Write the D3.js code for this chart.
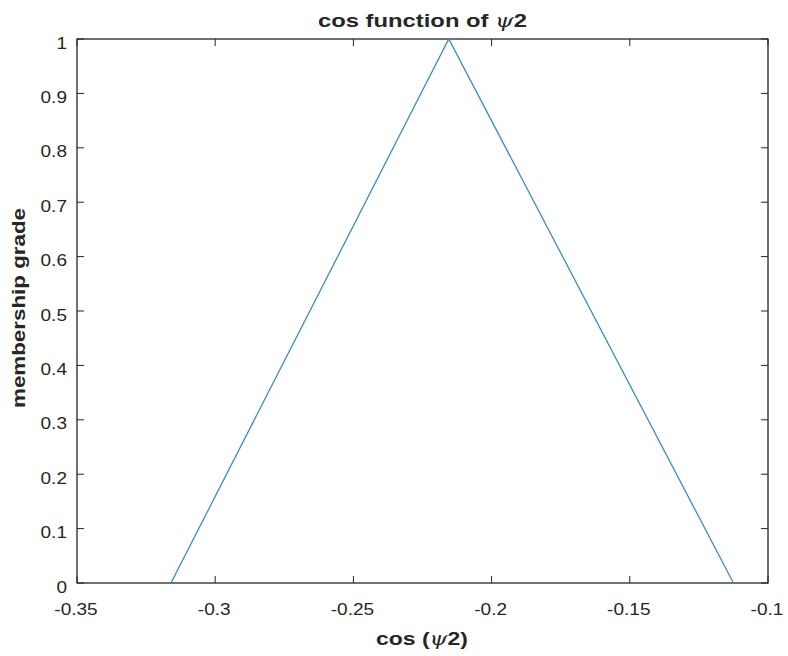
<!DOCTYPE html>
<html>
<head>
<meta charset="utf-8">
<script src="https://cdn.jsdelivr.net/npm/d3@7"></script>
<style>
  body { margin: 0; background: #fff; }
  text { font-family: "Liberation Sans", Arial, sans-serif; fill: #262626; }
</style>
</head>
<body>
<div id="chart"></div>
<script>
// triangular membership function
const xValues = [-0.316, -0.2155, -0.1125];
const yValues = [0, 1, 0];
const xTicks = [-0.35, -0.3, -0.25, -0.2, -0.15, -0.1];
const yTicks = [0, 0.1, 0.2, 0.3, 0.4, 0.5, 0.6, 0.7, 0.8, 0.9, 1];

const width = 788, height = 656;
const margin = {top: 39, right: 20, bottom: 73, left: 77};

const svg = d3.select("#chart").append("svg")
    .attr("width", width)
    .attr("height", height);

const x = d3.scaleLinear([-0.35, -0.1], [margin.left, width - margin.right]);
const y = d3.scaleLinear([0, 1], [height - margin.bottom, margin.top]);

const tickLen = 7;
const axisColor = "#262626";
const fmt = d => String(d);   // plain hyphen like matlab
const sx = 1.12;              // the reference text is a bit wider than Liberation

// box
svg.append("rect")
    .attr("x", margin.left)
    .attr("y", margin.top)
    .attr("width", x(-0.1) - x(-0.35))
    .attr("height", y(0) - y(1))
    .attr("fill", "none")
    .attr("stroke", axisColor)
    .attr("stroke-width", 1.3);

// ticks on all four sides, pointing in
const ticks = svg.append("g").attr("stroke", axisColor).attr("stroke-width", 1);
xTicks.forEach(t => {
    ticks.append("line").attr("x1", x(t)).attr("x2", x(t))
        .attr("y1", y(0)).attr("y2", y(0) - tickLen);
    ticks.append("line").attr("x1", x(t)).attr("x2", x(t))
        .attr("y1", y(1)).attr("y2", y(1) + tickLen);
});
yTicks.forEach(t => {
    ticks.append("line").attr("x1", x(-0.35)).attr("x2", x(-0.35) + tickLen)
        .attr("y1", y(t)).attr("y2", y(t));
    ticks.append("line").attr("x1", x(-0.1)).attr("x2", x(-0.1) - tickLen)
        .attr("y1", y(t)).attr("y2", y(t));
});

// tick labels
svg.append("g").selectAll("text")
    .data(xTicks)
    .join("text")
    .attr("transform", d => `translate(${x(d) - 1},${y(0) + 32}) scale(${sx},1)`)
    .attr("text-anchor", "middle")
    .attr("font-size", 17)
    .text(fmt);

svg.append("g").selectAll("text")
    .data(yTicks)
    .join("text")
    .attr("transform", d => `translate(${margin.left - 10},${y(d) + 9.5}) scale(${sx},1)`)
    .attr("text-anchor", "end")
    .attr("font-size", 17)
    .text(fmt);

// the line
const line = d3.line()
    .x((d, i) => x(xValues[i]))
    .y(d => y(d));

svg.append("path")
    .datum(yValues)
    .attr("d", line)
    .attr("fill", "none")
    .attr("stroke", "#3b8cc4")
    .attr("stroke-width", 1.3);

// title
const title = svg.append("text")
    .attr("x", 318)
    .attr("y", 27)
    .attr("font-size", 19)
    .attr("font-weight", "bold")
    .attr("textLength", 209)
    .attr("lengthAdjust", "spacingAndGlyphs");
title.append("tspan").text("cos function of ");
title.append("tspan").attr("font-family", "DejaVu Serif").attr("font-style", "italic").attr("font-weight", "normal").text("ψ");
title.append("tspan").text("2");

// x label
const xl = svg.append("text")
    .attr("x", 376)
    .attr("y", 645)
    .attr("font-size", 19)
    .attr("font-weight", "bold")
    .attr("textLength", 92)
    .attr("lengthAdjust", "spacingAndGlyphs");
xl.append("tspan").text("cos (");
xl.append("tspan").attr("font-family", "DejaVu Serif").attr("font-style", "italic").attr("font-weight", "normal").text("ψ");
xl.append("tspan").text("2)");

// y label
svg.append("text")
    .attr("transform", "translate(25,408) rotate(-90)")
    .attr("font-size", 19)
    .attr("font-weight", "bold")
    .attr("textLength", 200)
    .attr("lengthAdjust", "spacingAndGlyphs")
    .text("membership grade");
</script>
</body>
</html>
